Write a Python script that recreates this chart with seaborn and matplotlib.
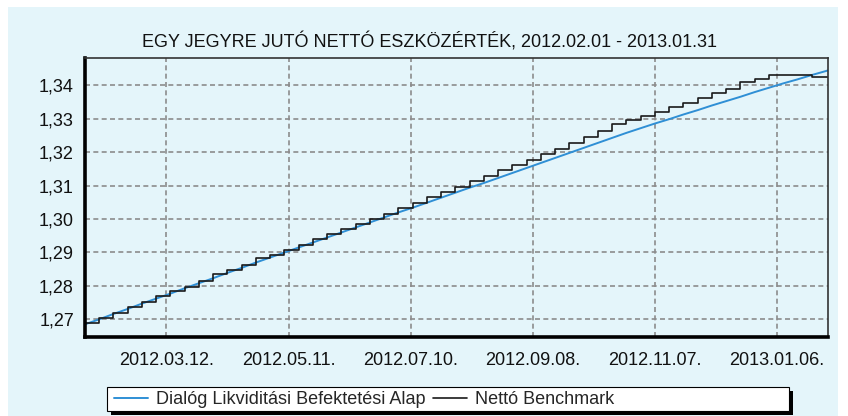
import numpy as np
import pandas as pd
import matplotlib
matplotlib.use("Agg")
import matplotlib.pyplot as plt
import matplotlib.dates as mdates
from matplotlib.patches import Rectangle
from matplotlib.ticker import MultipleLocator, FuncFormatter
import seaborn as sns

# ---- data ----
dates = list(pd.date_range("2012-02-01", periods=53, freq="7D")) + [pd.Timestamp("2013-01-31")]

fund = [1.2685, 1.2700, 1.2716, 1.2731, 1.2747, 1.2762, 1.2777, 1.2793, 1.2808, 1.2823,
        1.2839, 1.2854, 1.2870, 1.2885, 1.2900, 1.2915, 1.2930, 1.2945, 1.2960, 1.2975,
        1.2990, 1.3005, 1.3020, 1.3034, 1.3049, 1.3064, 1.3079, 1.3094, 1.3108, 1.3123,
        1.3138, 1.3153, 1.3168, 1.3183, 1.3198, 1.3213, 1.3228, 1.3243, 1.3258, 1.3272,
        1.3286, 1.3299, 1.3313, 1.3326, 1.3340, 1.3353, 1.3366, 1.3380, 1.3393, 1.3406,
        1.3418, 1.3431, 1.3443, 1.3445]

benchmark = [1.2688, 1.2703, 1.2720, 1.2737, 1.2753, 1.2769, 1.2786, 1.2798, 1.2815, 1.2835,
             1.2847, 1.2862, 1.2882, 1.2893, 1.2908, 1.2922, 1.2940, 1.2955, 1.2970, 1.2984,
             1.3000, 1.3016, 1.3032, 1.3049, 1.3065, 1.3080, 1.3097, 1.3115, 1.3130, 1.3148,
             1.3162, 1.3177, 1.3195, 1.3210, 1.3229, 1.3246, 1.3264, 1.3283, 1.3295, 1.3308,
             1.3321, 1.3334, 1.3348, 1.3362, 1.3376, 1.3390, 1.3409, 1.3419, 1.3431, 1.3431,
             1.3431, 1.3425, 1.3425, 1.3425]

series_names = ["Dialóg Likviditási Befektetési Alap", "Nettó Benchmark"]
title = "EGY JEGYRE JUTÓ NETTÓ ESZKÖZÉRTÉK, 2012.02.01 - 2013.01.31"
x_major_start = "2012-03-12"
y_ticks = [1.27, 1.28, 1.29, 1.30, 1.31, 1.32, 1.33, 1.34]

df = pd.DataFrame({"date": dates, "fund": fund, "benchmark": benchmark})

# ---- style ----
BG = "#E4F5FA"
sns.set_style("white")
plt.rcParams["font.family"] = ["Liberation Sans", "DejaVu Sans"]

W, H = 848, 416
fig = plt.figure(figsize=(W / 100, H / 100), dpi=100, facecolor="white")

# light blue panel
fig.patches.append(Rectangle((8 / W, 0), (838 - 8) / W, (H - 7) / H,
                             transform=fig.transFigure, facecolor=BG,
                             edgecolor="none", zorder=-10))

L, R, T, B = 85, 828, 58, 337
ax = fig.add_axes([L / W, 1 - B / H, (R - L) / W, (B - T) / H])
ax.set_facecolor(BG)

sns.lineplot(data=df, x="date", y="fund", ax=ax, color="#2F8FD5", linewidth=1.4,
             label=series_names[0], zorder=3)
sns.lineplot(data=df, x="date", y="benchmark", ax=ax, color="#1A1A1A", linewidth=1.2,
             drawstyle="steps-post", label=series_names[1], zorder=4)

ax.set_xlim(pd.Timestamp("2012-02-01"), pd.Timestamp("2013-01-31"))
ax.set_ylim(1.2647, 1.3482)

# x ticks: majors every 60 days from 2012-03-12, minors every 15 days
major_dates = pd.date_range(x_major_start, "2013-01-31", freq="60D")
minor_dates = pd.date_range("2012-02-11", "2013-01-31", freq="15D")
ax.set_xticks(mdates.date2num(major_dates))
ax.set_xticks(mdates.date2num(minor_dates), minor=True)
ax.xaxis.set_major_formatter(mdates.DateFormatter("%Y.%m.%d."))

ax.set_yticks(y_ticks)
ax.yaxis.set_minor_locator(MultipleLocator(0.005))
ax.yaxis.set_major_formatter(FuncFormatter(lambda v, p: f"{v:.2f}".replace(".", ",")))

ax.tick_params(axis="both", which="both", direction="out", color="#666666",
               labelsize=13, labelcolor="#111111")
ax.tick_params(axis="x", which="both", length=4, width=1, pad=7)
ax.tick_params(axis="y", which="major", length=5, width=1, pad=3)
ax.tick_params(axis="y", which="minor", length=3, width=1)

ax.grid(True, which="major", color="#8C8C8C", linestyle=(0, (3, 2)), linewidth=1.2)
ax.set_axisbelow(True)
ax.set_xlabel("")
ax.set_ylabel("")

for side in ["left", "bottom"]:
    ax.spines[side].set_linewidth(2.6)
    ax.spines[side].set_color("black")
for side in ["top", "right"]:
    ax.spines[side].set_linewidth(1.2)
    ax.spines[side].set_color("#333333")
for s in ax.spines.values():
    s.set_visible(True)
    s.set_zorder(5)

# title
fig.text(430 / W, 1 - 42 / H, title, ha="center", va="center", fontsize=13, color="#111111")

# legend box with shadow
bx0, by0, bx1, by1 = 107, 387, 789, 411
fig.patches.append(Rectangle(((bx0 + 4) / W, 1 - (by1 + 4) / H), (bx1 - bx0) / W, (by1 - by0) / H,
                             transform=fig.transFigure, facecolor="black", edgecolor="none", zorder=1))
fig.patches.append(Rectangle((bx0 / W, 1 - by1 / H), (bx1 - bx0) / W, (by1 - by0) / H,
                             transform=fig.transFigure, facecolor="white", edgecolor="black",
                             linewidth=0.8, zorder=2))

handles, labels = ax.get_legend_handles_labels()
ax.get_legend().remove()
leg = fig.legend(handles, labels, loc="center left",
                 bbox_to_anchor=(114 / W, 1 - 399.5 / H), bbox_transform=fig.transFigure,
                 ncol=2, frameon=False, fontsize=13, handlelength=1.9, handletextpad=0.4,
                 columnspacing=0.45, borderpad=0, borderaxespad=0)
leg.set_zorder(3)

fig.savefig("out.png", dpi=100, facecolor="white")
